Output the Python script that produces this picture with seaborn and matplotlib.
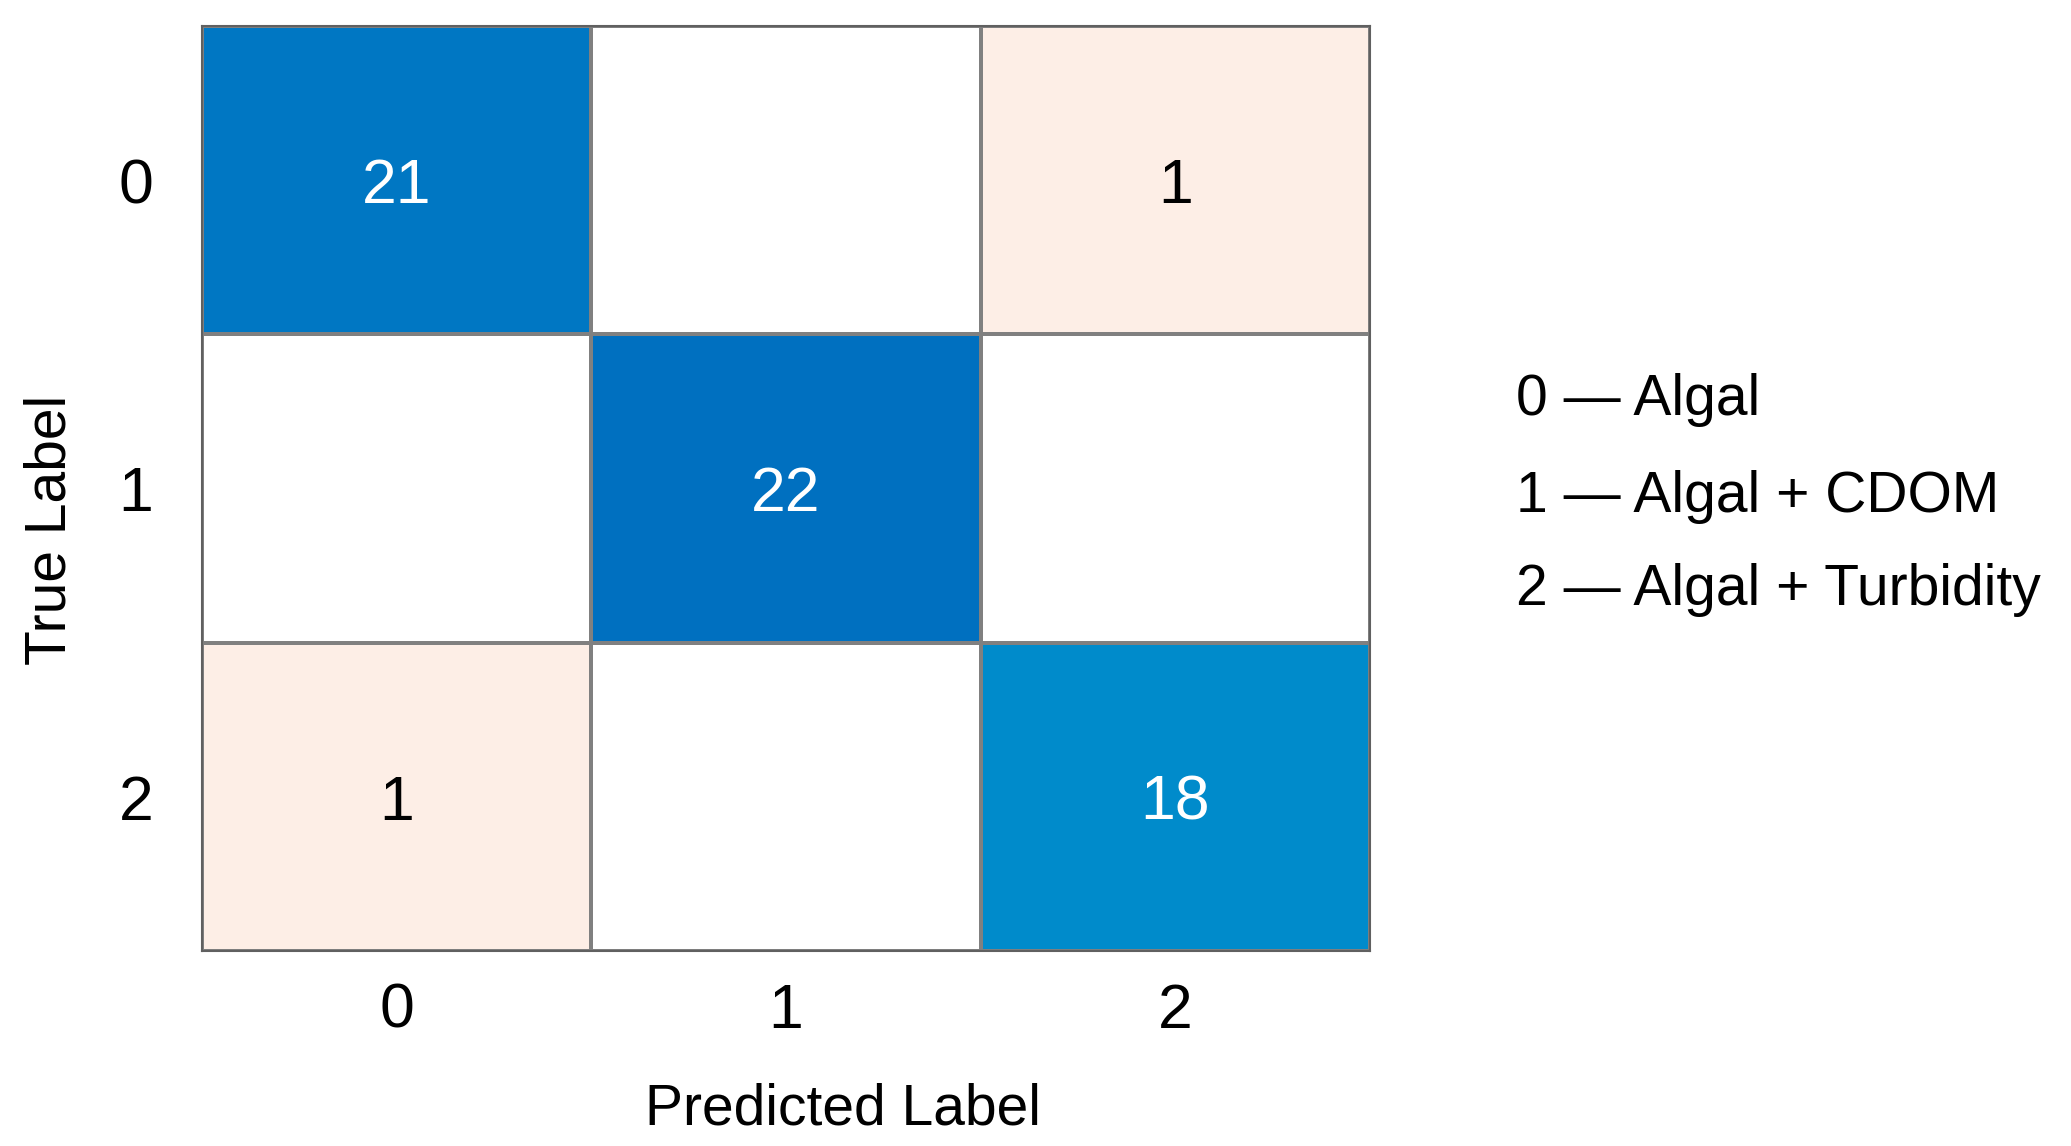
import numpy as np
import matplotlib
matplotlib.use("Agg")
import matplotlib.pyplot as plt
from matplotlib.colors import LinearSegmentedColormap
import seaborn as sns

classes = ["0", "1", "2"]
counts = [[21, 0, 1],
          [0, 22, 0],
          [1, 0, 18]]
legend_names = ["Algal", "Algal + CDOM", "Algal + Turbidity"]
x_title = "Predicted Label"
y_title = "True Label"

sns.set_theme(style="white")
plt.rcParams['font.family'] = ['Liberation Sans', 'DejaVu Sans']

cm = np.array(counts)
diag = np.eye(len(classes), dtype=bool)
labels = np.where(cm == 0, "", cm.astype(str))

fig = plt.figure(figsize=(20.71, 11.46), dpi=100)
ax = fig.add_axes([0.0975, 0.1702, 0.564, 0.8071])

off_cmap = LinearSegmentedColormap.from_list("off", ["#ffffff", "#fdeee6"])
diag_cmap = LinearSegmentedColormap.from_list("diag", ["#008bcb", "#0070c0"])

sns.heatmap(cm, mask=diag, cmap=off_cmap, vmin=0, vmax=1, cbar=False,
            annot=labels, fmt="", annot_kws={"size": 45, "color": "black"},
            linewidths=1.5, linecolor="#808080", ax=ax,
            xticklabels=classes, yticklabels=classes)
sns.heatmap(cm, mask=~diag, cmap=diag_cmap, vmin=18, vmax=22, cbar=False,
            annot=labels, fmt="", annot_kws={"size": 45, "color": "white"},
            linewidths=1.5, linecolor="#808080", ax=ax,
            xticklabels=classes, yticklabels=classes)

for t in ax.texts:
    t.set_va("center_baseline")

for s in ax.spines.values():
    s.set_visible(True)
    s.set_color("#606060")
    s.set_linewidth(1.5)

ax.tick_params(axis="both", length=0, labelsize=45, colors="black")
ax.tick_params(axis="x", pad=22)
ax.tick_params(axis="y", pad=35)
plt.setp(ax.get_yticklabels(), rotation=0, va="center_baseline")

ax.set_xlabel(x_title, fontsize=41, color="black", va="center")
ax.set_ylabel(y_title, fontsize=41, color="black", va="center")
ax.xaxis.set_label_coords(0.549, -0.171)
ax.yaxis.set_label_coords(-0.130, 0.455)

ys = [394, 491, 584]
for c, name, y in zip(classes, legend_names, ys):
    fig.text(1516 / 2071, 1 - y / 1146, f"{c} \u2014 {name}", fontsize=41,
             va="center_baseline", ha="left", color="black")

fig.savefig("out.png", dpi=100)
